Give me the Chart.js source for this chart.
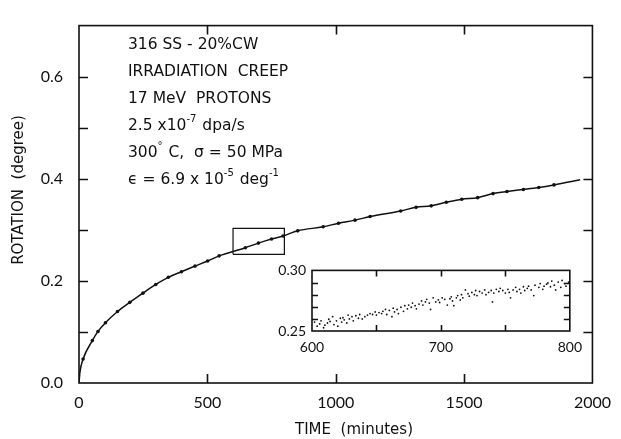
<!DOCTYPE html>
<html>
<head>
<meta charset="utf-8">
<script src="https://cdn.jsdelivr.net/npm/chart.js@4"></script>
<style>
  body { margin: 0; background: #fff; }
  #wrap { position: relative; width: 621px; height: 439px; }
  #main { position: absolute; left: 0; top: 0; }
  #inset { position: absolute; left: 270px; top: 256px; }
</style>
</head>
<body>
<div id="wrap">
  <canvas id="main" width="621" height="439"></canvas>
  <canvas id="inset" width="320" height="100"></canvas>
</div>
<script>
// Datos de la curva principal (minutos, grados)
const curveTime = [0, 4, 16, 52, 74, 103, 150, 198, 249, 299, 348, 399, 452, 501, 546, 648, 699, 750, 795, 852,
  951, 1011, 1075, 1134, 1253, 1313, 1372, 1431, 1491, 1553, 1613, 1667, 1731, 1791, 1850, 1952];
const curveRotation = [0, 0.022, 0.047, 0.083, 0.101, 0.118, 0.140, 0.158, 0.176, 0.193, 0.207, 0.218, 0.229, 0.239, 0.249, 0.265, 0.274, 0.282, 0.288, 0.298,
  0.306, 0.313, 0.319, 0.326, 0.337, 0.344, 0.347, 0.354, 0.360, 0.363, 0.371, 0.375, 0.379, 0.383, 0.388, 0.398];

// Recuadro de zoom (600-800 min)
const zoomBoxTime = [600, 800, 800, 600, 600];
const zoomBoxRotation = [0.252, 0.252, 0.303, 0.303, 0.252];

// Datos del recuadro ampliado
const insetTime = [602, 604, 606, 607, 609, 610, 612, 613, 614, 616, 617, 619, 620, 622, 623, 624, 625, 627, 628, 629,
  631, 632, 634, 636, 637, 639, 641, 643, 645, 647, 649, 650, 652, 654, 655, 657, 658, 660, 662, 663,
  664, 666, 667, 669, 671, 672, 674, 675, 677, 678, 680, 681, 683, 685, 686, 688, 689, 691, 692, 694,
  696, 698, 699, 701, 703, 705, 707, 708, 709, 710, 712, 713, 715, 716, 717, 719, 721, 722, 724, 726,
  727, 728, 730, 732, 734, 735, 737, 739, 740, 741, 743, 745, 746, 748, 750, 752, 753, 754, 756, 758,
  759, 761, 762, 764, 765, 767, 768, 770, 772, 773, 776, 777, 779, 780, 782, 783, 785, 786, 788, 789,
  791, 793, 794, 796, 797, 799];
const insetRotation = [0.2574, 0.2540, 0.2558, 0.2584, 0.2527, 0.2548, 0.2566, 0.2597, 0.2579, 0.2618, 0.2553, 0.2584, 0.2540, 0.2605, 0.2574, 0.2610, 0.2592, 0.2566, 0.2631, 0.2600,
  0.2618, 0.2584, 0.2626, 0.2605, 0.2636, 0.2600, 0.2618, 0.2631, 0.2644, 0.2636, 0.2657, 0.2631, 0.2652, 0.2644, 0.2662, 0.2678, 0.2636, 0.2670, 0.2618, 0.2688,
  0.2657, 0.2678, 0.2644, 0.2696, 0.2662, 0.2709, 0.2683, 0.2714, 0.2696, 0.2730, 0.2709, 0.2683, 0.2722, 0.2748, 0.2714, 0.2740, 0.2761, 0.2730, 0.2678, 0.2774,
  0.2740, 0.2756, 0.2735, 0.2774, 0.2761, 0.2714, 0.2766, 0.2782, 0.2748, 0.2709, 0.2774, 0.2792, 0.2756, 0.2800, 0.2774, 0.2839, 0.2808, 0.2787, 0.2818, 0.2800,
  0.2834, 0.2792, 0.2826, 0.2813, 0.2839, 0.2800, 0.2818, 0.2834, 0.2740, 0.2813, 0.2844, 0.2826, 0.2852, 0.2834, 0.2813, 0.2844, 0.2818, 0.2774, 0.2839, 0.2860,
  0.2826, 0.2844, 0.2813, 0.2865, 0.2834, 0.2852, 0.2870, 0.2839, 0.2792, 0.2878, 0.2860, 0.2891, 0.2844, 0.2870, 0.2886, 0.2896, 0.2865, 0.2912, 0.2878, 0.2839,
  0.2904, 0.2860, 0.2917, 0.2891, 0.2870, 0.2904];

// Etiquetas y marcas de los ejes
const xLabels = [0, 500, 1000, 1500, 2000];
const xMarks = [500, 1000, 1500];
const yLabels = [0, 0.2, 0.4, 0.6];
const yMarks = [0.1, 0.2, 0.3, 0.4, 0.5, 0.6];
const insetXLabels = [600, 700, 800];
const insetXMarks = [650, 700, 750];
const insetYLabels = [0.25, 0.30];
const insetYMarks = [0.26, 0.27, 0.28, 0.29];

// Texto de la leyenda (partes: [texto, superindice])
const noteLines = [
  [['316 SS - 20%CW', false]],
  [['IRRADIATION  CREEP', false]],
  [['17 MeV  PROTONS', false]],
  [['2.5 x10', false], ['-7', true], [' dpa/s', false]],
  [['300', false], ['°', true], [' C,  σ = 50 MPa', false]],
  [['ϵ = 6.9 x 10', false], ['-5', true], [' deg', false], ['-1', true]]
];

const FONT = 'Lato, "DejaVu Sans", sans-serif';
const WIDE = '"DejaVu Sans", sans-serif';
const INK = '#111';

const toPoints = (xs, ys) => xs.map((x, i) => ({ x, y: ys[i] }));

// Dibuja marcas hacia dentro y el marco completo
const frameTicks = (chart, xs, ys, len) => {
  const { ctx, chartArea: a, scales } = chart;
  ctx.save();
  ctx.strokeStyle = INK;
  ctx.lineWidth = 1.6;
  ctx.strokeRect(a.left, a.top, a.right - a.left, a.bottom - a.top);
  ctx.beginPath();
  xs.forEach((v) => {
    const px = Math.round(scales.x.getPixelForValue(v)) + 0.5;
    ctx.moveTo(px, a.bottom); ctx.lineTo(px, a.bottom - len);
    ctx.moveTo(px, a.top); ctx.lineTo(px, a.top + len);
  });
  ys.forEach((v) => {
    const py = Math.round(scales.y.getPixelForValue(v)) + 0.5;
    ctx.moveTo(a.left, py); ctx.lineTo(a.left + len, py);
    ctx.moveTo(a.right, py); ctx.lineTo(a.right - len, py);
  });
  ctx.stroke();
  ctx.restore();
};

const mainDecor = {
  id: 'mainDecor',
  afterDraw(chart) {
    const { ctx } = chart;
    frameTicks(chart, xMarks, yMarks, 9);
    ctx.save();
    ctx.fillStyle = INK;
    ctx.textBaseline = 'middle';
    // Titulos de los ejes
    ctx.font = '15px ' + WIDE;
    ctx.textAlign = 'center';
    ctx.fillText('TIME  (minutes)', 354, 430);
    ctx.save();
    ctx.translate(19, 190);
    ctx.rotate(-Math.PI / 2);
    ctx.fillText('ROTATION  (degree)', 0, 0);
    ctx.restore();
    // Bloque de texto
    ctx.textAlign = 'left';
    noteLines.forEach((parts, i) => {
      let x = 128;
      const y = 45 + i * 27;
      parts.forEach(([txt, sup]) => {
        ctx.font = (sup ? '10px ' : '15.5px ') + WIDE;
        ctx.fillText(txt, x, sup ? y - 7 : y);
        x += ctx.measureText(txt).width + (sup ? 1 : 0);
      });
    });
    ctx.restore();
  }
};

const insetDecor = {
  id: 'insetDecor',
  afterDraw(chart) {
    frameTicks(chart, insetXMarks, insetYMarks, 6);
  }
};

new Chart(document.getElementById('main'), {
  type: 'scatter',
  data: {
    datasets: [
      {
        data: toPoints(curveTime, curveRotation),
        showLine: true,
        borderColor: INK,
        borderWidth: 1.5,
        cubicInterpolationMode: 'monotone',
        backgroundColor: INK,
        pointRadius: (c) => (c.dataIndex < 2 || c.dataIndex === curveTime.length - 1 ? 0 : 1.8),
        pointBorderWidth: 0
      },
      {
        data: toPoints(zoomBoxTime, zoomBoxRotation),
        showLine: true,
        borderColor: INK,
        borderWidth: 1.2,
        pointRadius: 0
      }
    ]
  },
  options: {
    responsive: false,
    animation: false,
    devicePixelRatio: 1,
    layout: { padding: { top: 15, right: 21, left: 0, bottom: 0 } },
    plugins: { legend: { display: false }, tooltip: { enabled: false } },
    scales: {
      x: {
        type: 'linear', min: 0, max: 2000,
        afterBuildTicks: (s) => { s.ticks = xLabels.map((v) => ({ value: v })); },
        afterFit: (s) => { s.height = 56; },
        grid: { display: false, drawTicks: false },
        border: { display: false },
        ticks: { font: { family: FONT, size: 16 }, color: INK, padding: 10, maxRotation: 0, callback: (v) => String(v) }
      },
      y: {
        type: 'linear', min: 0, max: 0.7,
        afterBuildTicks: (s) => { s.ticks = yLabels.map((v) => ({ value: v })); },
        afterFit: (s) => { s.width = 79; },
        grid: { display: false, drawTicks: false },
        border: { display: false },
        ticks: { font: { family: FONT, size: 16 }, color: INK, padding: 16, callback: (v) => v.toFixed(1) }
      }
    }
  },
  plugins: [mainDecor]
});

new Chart(document.getElementById('inset'), {
  type: 'scatter',
  data: {
    datasets: [{
      data: toPoints(insetTime, insetRotation),
      backgroundColor: INK,
      pointRadius: 0.9,
      pointBorderWidth: 0
    }]
  },
  options: {
    responsive: false,
    animation: false,
    devicePixelRatio: 1,
    layout: { padding: { top: 10, right: 16, left: 0, bottom: 0 } },
    plugins: { legend: { display: false }, tooltip: { enabled: false } },
    scales: {
      x: {
        type: 'linear', min: 600, max: 800,
        afterBuildTicks: (s) => { s.ticks = insetXLabels.map((v) => ({ value: v })); },
        afterFit: (s) => { s.height = 25; },
        grid: { display: false, drawTicks: false },
        border: { display: false },
        ticks: { font: { family: FONT, size: 14 }, color: INK, padding: 8, maxRotation: 0, callback: (v) => String(v) }
      },
      y: {
        type: 'linear', min: 0.25, max: 0.30,
        afterBuildTicks: (s) => { s.ticks = insetYLabels.map((v) => ({ value: v })); },
        afterFit: (s) => { s.width = 42; },
        grid: { display: false, drawTicks: false },
        border: { display: false },
        ticks: { font: { family: FONT, size: 14 }, color: INK, padding: 6, callback: (v) => v.toFixed(2) }
      }
    }
  },
  plugins: [insetDecor]
});
</script>
</body>
</html>
